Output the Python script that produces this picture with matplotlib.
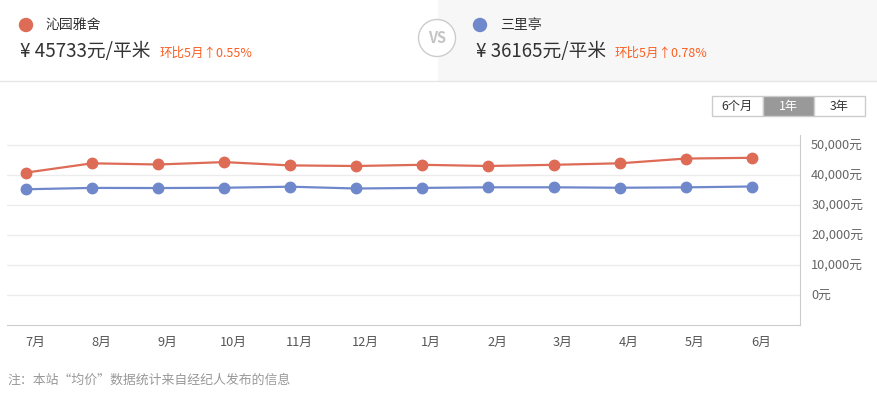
import matplotlib
matplotlib.use('Agg')
import matplotlib.pyplot as plt
import matplotlib.transforms as mtransforms
from matplotlib.patches import Rectangle, Circle
from matplotlib.ticker import FuncFormatter

plt.rcParams['font.family'] = ['Noto Sans CJK SC', 'DejaVu Sans']

months = ['7月', '8月', '9月', '10月', '11月', '12月', '1月', '2月', '3月', '4月', '5月', '6月']
name_a = '沁园雅舍'
name_b = '三里亭'
price_a = [40800, 43900, 43500, 44300, 43200, 43000, 43400, 43000, 43400, 43900, 45484, 45733]
price_b = [35250, 35700, 35650, 35750, 36100, 35500, 35700, 35900, 35900, 35750, 35885, 36165]
yticks = [0, 10000, 20000, 30000, 40000, 50000]
ranges = ['6个月', '1年', '3年']

RED = '#dd6b56'
BLUE = '#6f88cb'
ORANGE = '#fa5f22'

W, H = 877, 397
fig = plt.figure(figsize=(W / 100, H / 100), dpi=100)


def fx(x):
    return x / W


def fy(y):
    return 1 - y / H


# header, drawn in pixel coords (y down)
ax_head = fig.add_axes([0, 0, 1, 1])
ax_head.set_xlim(0, W)
ax_head.set_ylim(H, 0)
ax_head.axis('off')
ax_head.patch.set_alpha(0)

ax_head.add_patch(Rectangle((438, 0), W - 438, 81, facecolor='#f7f7f7', edgecolor='none', zorder=0))
ax_head.plot([0, W], [81, 81], color='#e6e6e6', lw=1, zorder=1)

ax_head.add_patch(Circle((26, 25), 6.5, color=RED, zorder=2))
ax_head.add_patch(Circle((480, 25), 6.5, color=BLUE, zorder=2))
ax_head.add_patch(Circle((437, 38), 18.5, facecolor='white', edgecolor='#cccccc', lw=1, zorder=2))
ax_head.text(437, 38, 'VS', ha='center', va='center', fontsize=10.5, color='#c4c4c4',
             fontweight='bold', zorder=3)

ax_head.text(45, 25, name_a, ha='left', va='center', fontsize=10, color='#333333')
ax_head.text(500, 25, name_b, ha='left', va='center', fontsize=10, color='#333333')
ax_head.text(20, 52, f'¥ {price_a[-1]}元/平米', ha='left', va='center', fontsize=13.5, color='#333333')
ax_head.text(476, 52, f'¥ {price_b[-1]}元/平米', ha='left', va='center', fontsize=13.5, color='#333333')
chg_a = (price_a[-1] / price_a[-2] - 1) * 100
chg_b = (price_b[-1] / price_b[-2] - 1) * 100
ax_head.text(160, 53, f'环比5月↑{chg_a:.2f}%', ha='left', va='center', fontsize=9, color=ORANGE)
ax_head.text(615, 53, f'环比5月↑{chg_b:.2f}%', ha='left', va='center', fontsize=9, color=ORANGE)

# range buttons
bx = [712, 763, 814, 865]
for i, lab in enumerate(ranges):
    active = lab == '1年'
    ax_head.add_patch(Rectangle((bx[i], 96), bx[i + 1] - bx[i], 20,
                                facecolor='#999999' if active else 'white',
                                edgecolor='#cccccc', lw=1))
    ax_head.text((bx[i] + bx[i + 1]) / 2, 106.5, lab, ha='center', va='center', fontsize=8.8,
                 color='white' if active else '#333333')

ax_head.text(7, 380, '注：本站“均价”数据统计来自经纪人发布的信息', ha='left', va='center',
             fontsize=9.3, color='#999999')

# chart
ax = fig.add_axes([fx(7), fy(325), fx(800 - 7), (325 - 135) / H])
x = list(range(len(months)))
ax.plot(x, price_a, color=RED, lw=1.6, marker='o', ms=7.5, zorder=3, clip_on=False)
ax.plot(x, price_b, color=BLUE, lw=1.6, marker='o', ms=7.5, zorder=3, clip_on=False)

ax.set_xlim(-0.29, 11.73)
ax.set_ylim(-10000, 53333)
ax.set_yticks(yticks)
ax.yaxis.set_major_formatter(FuncFormatter(lambda v, p: f'{int(v):,}元'))
ax.yaxis.tick_right()
ax.tick_params(axis='y', length=0, pad=8, labelsize=9.2, labelcolor='#666666')
for lab in ax.get_yticklabels():
    lab.set_horizontalalignment('left')
ax.grid(axis='y', color='#ececec', lw=1)
ax.set_axisbelow(True)

ax.set_xticks(x)
ax.set_xticklabels(months)
ax.tick_params(axis='x', length=0, pad=8, labelsize=9.2, labelcolor='#555555')
shift = mtransforms.ScaledTranslation(9 / 100, 0, fig.dpi_scale_trans)
for lab in ax.get_xticklabels():
    lab.set_transform(lab.get_transform() + shift)

for s in ['top', 'left']:
    ax.spines[s].set_visible(False)
ax.spines['bottom'].set_color('#cccccc')
ax.spines['right'].set_color('#cccccc')

fig.savefig('out.png', dpi=100)
